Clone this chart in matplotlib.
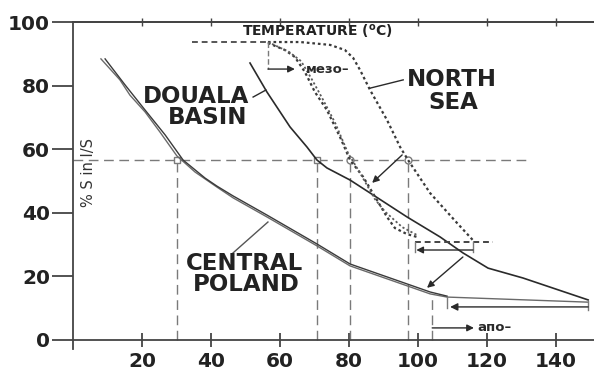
import matplotlib
matplotlib.use('Agg')
import matplotlib.pyplot as plt

plt.rcParams['font.family'] = ['DejaVu Sans']

# ---- data ----
x_ticks = [20, 40, 60, 80, 100, 120, 140]
y_ticks = [0, 20, 40, 60, 80, 100]

# Central Poland (double line)
poland_a_x = [8.1, 13.6, 16.5, 20.9, 25.2, 30.1, 35.4, 41.7, 46.4, 56.2, 70.7, 80.3, 91.9, 103.5, 108.4, 149.3]
poland_a_y = [88.4, 81.8, 77.0, 71.7, 65.4, 57.9, 52.8, 48.1, 44.7, 38.7, 29.6, 23.3, 18.9, 14.5, 13.5, 11.9]
poland_b_x = [9.3, 15.1, 20.9, 26.7, 31.9, 38.3, 41.7, 46.4, 56.2, 70.7, 80.3, 91.9, 103.5, 108.4]
poland_b_y = [88.4, 80.2, 72.3, 64.5, 56.6, 50.9, 48.4, 45.3, 39.3, 30.2, 23.9, 19.5, 15.1, 13.8]

# Douala Basin (solid line)
douala_x = [51.3, 56.2, 62.9, 67.8, 70.7, 73.6, 80.3, 87.0, 96.8, 106.4, 113.0, 120.3, 130.4, 149.3]
douala_y = [87.1, 78.0, 67.0, 60.7, 56.6, 54.1, 50.3, 45.6, 38.7, 32.4, 27.4, 22.6, 19.5, 12.6]

# North Sea temperature curves (dotted)
top_flat_x = [34.5, 56.5]
top_flat_y = [93.7, 93.7]
sea_b_x = [56.5, 65.8, 74.5, 78.8, 81.2, 83.2, 86.1, 91.0, 94.8, 97.1, 103.5, 111.3, 115.9]
sea_b_y = [93.7, 93.7, 92.8, 91.2, 88.7, 84.9, 78.6, 69.2, 60.7, 56.6, 46.2, 36.8, 31.4]
sea_a_x = [56.5, 61.4, 64.3, 67.2, 70.1, 73.6, 77.4, 80.3, 84.1, 88.1, 91.0, 93.3, 96.8, 99.7]
sea_a_y = [93.4, 91.2, 89.0, 84.3, 78.0, 72.3, 63.8, 56.6, 51.3, 44.0, 38.7, 35.2, 33.3, 32.4]
sea_c_x = [56.5, 62.6, 66.1, 69.0, 72.2, 76.0, 79.7, 83.2, 87.5, 90.4, 95.4, 99.7]
sea_c_y = [93.7, 90.6, 87.7, 82.4, 76.1, 68.2, 58.8, 52.5, 44.3, 40.4, 35.5, 33.0]
flat_low_x = [99.1, 121.7]
flat_low_y = [30.8, 30.8]

# reference lines
ref_level = 56.6
ref_x_end = 132.5
ref_verticals = [30.1, 70.7, 80.3, 97.0]
ref_marker = ['s', 's', 'o', 'o']
apo_line_x = 104.1
apo_line_top = 13.0

# brackets / arrows
mezo_x0, mezo_x1, mezo_y, mezo_top = 56.5, 64.3, 85.2, 93.7
upper_bracket = (115.9, 99.1, 28.3, 30.8)   # x_right, x_left, y, tick top
lower_bracket_y = 10.4
lower_bracket_x = (149.3, 109.3)
apo_arrow = (104.1, 116.2, 3.8)
arrow1 = ((95.4, 58.2), (86.7, 49.4))
arrow2 = ((113.0, 26.1), (102.6, 16.4))

# ---- figure ----
fig = plt.figure(figsize=(5.94, 3.72), dpi=100)
ax = fig.add_axes([73 / 594, (372 - 348.9) / 372, 1 - 73 / 594, (348.9 - 22) / 372])
ax.set_xlim(0, 151)
ax.set_ylim(-2.8, 100)

line_c = '#2a2a2a'
gray = '#7a7a7a'

# reference dashed lines
ax.plot([0, ref_x_end], [ref_level, ref_level], color=gray, lw=1.0, dashes=(7, 4))
for xv, mk in zip(ref_verticals, ref_marker):
    ax.plot([xv, xv], [0, ref_level], color=gray, lw=1.0, dashes=(7, 4))
    ax.plot([xv], [ref_level], marker=mk, ms=5, mfc='white', mec=gray, mew=1.0)
ax.plot([apo_line_x, apo_line_x], [0, apo_line_top], color=gray, lw=1.0, dashes=(7, 4))

# Central Poland
ax.plot(poland_a_x, poland_a_y, color='#6a6a6a', lw=1.0)
ax.plot(poland_b_x, poland_b_y, color='#3a3a3a', lw=1.0)

# Douala Basin
ax.plot(douala_x, douala_y, color=line_c, lw=1.2)

# North Sea dotted curves
dot = dict(color='#3a3a3a', lw=1.6, dashes=(1.2, 1.3))
ax.plot(top_flat_x, top_flat_y, color='#555555', lw=1.4, dashes=(3, 2))
ax.plot(sea_b_x, sea_b_y, **dot)
ax.plot(sea_a_x, sea_a_y, **dot)
ax.plot(sea_c_x, sea_c_y, color='#5a5a5a', lw=1.3, dashes=(1.2, 1.3))
ax.plot(flat_low_x, flat_low_y, color='#444444', lw=1.4, dashes=(3, 2))

arrow_kw = dict(arrowstyle='-|>', color=line_c, lw=1.0, mutation_scale=10, shrinkA=0, shrinkB=0)

# mezo arrow
ax.plot([mezo_x0, mezo_x0], [mezo_top, mezo_y], color=gray, lw=1.0, dashes=(4, 2))
ax.annotate('', xy=(mezo_x1, mezo_y), xytext=(mezo_x0, mezo_y), arrowprops=arrow_kw)
ax.text(67.4, mezo_y, 'мезо–', fontsize=9.5, fontweight='bold', color=line_c,
        ha='left', va='center')

# upper bracket
xr, xl, yb, yt = upper_bracket
ax.plot([xl, xl], [yt, yb - 0.6], color=gray, lw=1.0)
ax.plot([xr, xr], [yt, yb - 0.6], color=gray, lw=1.0)
ax.annotate('', xy=(xl + 0.4, yb), xytext=(xr, yb), arrowprops=arrow_kw)

# lower bracket
lx_r, lx_l = lower_bracket_x
ax.plot([108.4, 108.4], [13.5, lower_bracket_y - 0.4], color=gray, lw=1.0)
ax.plot([lx_r, lx_r], [12.3, lower_bracket_y - 1.0], color=gray, lw=1.0, clip_on=False)
ax.annotate('', xy=(lx_l, lower_bracket_y), xytext=(lx_r, lower_bracket_y),
            arrowprops=dict(arrow_kw, mutation_scale=11))

# apo arrow
ax0, ax1, ay = apo_arrow
ax.annotate('', xy=(ax1, ay), xytext=(ax0, ay), arrowprops=arrow_kw)
ax.text(117.3, ay, 'апо–', fontsize=9.5, fontweight='bold', color=line_c,
        ha='left', va='center')

# diagonal arrows
for (s, e) in (arrow1, arrow2):
    ax.annotate('', xy=e, xytext=s, arrowprops=arrow_kw)

# label pointers
ax.plot([52.2, 55.9], [76.4, 78.6], color=line_c, lw=1.0)
ax.plot([86.1, 95.7], [79.2, 81.8], color=line_c, lw=1.0)
ax.plot([46.4, 56.5], [27.4, 37.1], color='#555555', lw=1.0)

# labels
lab = dict(fontsize=16.5, fontweight='bold', color='#222222', ha='center', va='center')
ax.text(35.7, 76.6, 'DOUALA', **lab)
ax.text(38.9, 70.0, 'BASIN', **lab)
ax.text(109.9, 81.8, 'NORTH', **lab)
ax.text(110.2, 74.6, 'SEA', **lab)
ax.text(49.6, 24.2, 'CENTRAL', **lab)
ax.text(50.3, 17.3, 'POLAND', **lab)
ax.text(70.7, 97.3, 'TEMPERATURE ($^{\\mathregular{o}}$C)', fontsize=10, fontweight='bold',
        color='#222222', ha='center', va='center')
ax.text(4.4, 52.8, '% S in I/S', fontsize=10.5, color='#333333', rotation=90,
        ha='center', va='center')

# axes styling
ax.spines['right'].set_visible(False)
ax.spines['bottom'].set_position(('data', 0))
for s in ('left', 'bottom', 'top'):
    ax.spines[s].set_color('#444444')
    ax.spines[s].set_linewidth(1.3)
ax.set_xticks(x_ticks)
ax.set_yticks(y_ticks)
ax.set_xticklabels([str(v) for v in x_ticks])
ax.set_yticklabels([str(v) for v in y_ticks])
ax.tick_params(axis='y', direction='out', length=15, width=1.3, color='#444444',
               pad=1.5, labelsize=14.5, labelcolor='#222222')
ax.tick_params(axis='x', direction='inout', length=10, width=1.3, color='#444444',
               pad=4, labelsize=14.5, labelcolor='#222222')
for t in ax.get_xticklabels() + ax.get_yticklabels():
    t.set_fontweight('bold')
sec = ax.secondary_xaxis('top')
sec.set_xticks(x_ticks)
sec.tick_params(direction='inout', length=6, width=1.0, color='#444444', labeltop=False)
sec.spines['top'].set_color('#444444')
sec.spines['top'].set_linewidth(1.3)

fig.savefig('out.png', dpi=100)
